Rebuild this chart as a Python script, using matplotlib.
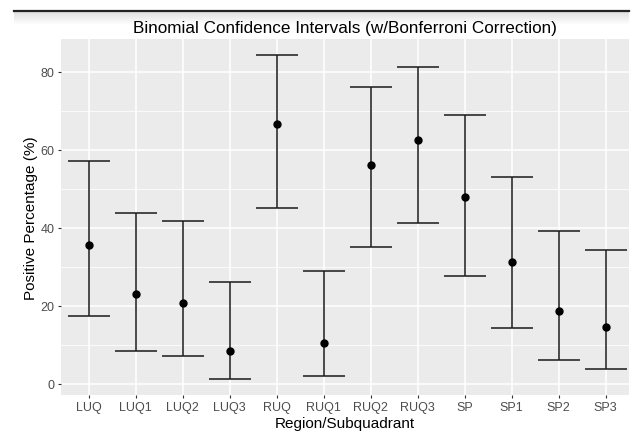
import numpy as np
import matplotlib.pyplot as plt
from matplotlib.lines import Line2D

plt.rcParams['font.family'] = ['Liberation Sans', 'DejaVu Sans']

# --- dados ---
regions = ["LUQ", "LUQ1", "LUQ2", "LUQ3", "RUQ", "RUQ1",
           "RUQ2", "RUQ3", "SP", "SP1", "SP2", "SP3"]
estimate = [35.5, 23.0, 20.8, 8.3, 66.7, 10.4, 56.2, 62.5, 47.9, 31.2, 18.7, 14.5]
lower = [17.3, 8.5, 7.2, 1.2, 45.1, 2.0, 35.1, 41.1, 27.5, 14.3, 6.1, 3.75]
upper = [57.1, 43.9, 41.6, 26.0, 84.3, 28.8, 76.0, 81.1, 68.9, 53.0, 39.1, 34.2]

x = np.arange(len(regions))
est = np.array(estimate)
err = [est - np.array(lower), np.array(upper) - est]

fig = plt.figure(figsize=(6.42, 4.35), dpi=100)

# sombra sob a linha do topo (fica atrás do título)
sh = fig.add_axes([14 / 642, 1 - 26 / 435, (629 - 14) / 642, 13 / 435], zorder=-1)
grad = np.linspace(0.88, 1.0, 50).reshape(-1, 1)
sh.imshow(grad, aspect="auto", cmap="gray", vmin=0, vmax=1, extent=[0, 1, 0, 1])
sh.axis("off")

ax = fig.add_axes([60.7 / 642, 39 / 435, (629 - 60.7) / 642, (396 - 39.6) / 435])
ax.set_facecolor("#EBEBEB")

ax.errorbar(x, est, yerr=err, fmt="o", color="black", ecolor="#1a1a1a",
            elinewidth=1.1, capsize=14.8, capthick=1.1, markersize=5, zorder=3)

ax.set_xlim(-0.6, 11.5)
ax.set_ylim(-2.9, 88.5)
ax.set_xticks(x)
ax.set_xticklabels(regions)
ax.set_yticks([0, 20, 40, 60, 80])
ax.set_yticks([10, 30, 50, 70], minor=True)

ax.grid(which="major", color="white", linewidth=1.1)
ax.grid(which="minor", axis="y", color="white", linewidth=0.55)
ax.set_axisbelow(True)
for s in ax.spines.values():
    s.set_visible(False)
ax.tick_params(which="major", length=2.5, width=0.8, color="#333333",
               labelcolor="#4D4D4D", labelsize=9, pad=2)
ax.tick_params(which="minor", length=0)

ax.set_xlabel("Region/Subquadrant", fontsize=11, labelpad=2)
ax.set_ylabel("Positive Percentage (%)", fontsize=11, labelpad=2)
ax.set_title("Binomial Confidence Intervals (w/Bonferroni Correction)",
             fontsize=12.3, pad=4.5)

# linha escura no topo
fig.add_artist(Line2D([14 / 642, 629 / 642], [1 - 12 / 435, 1 - 12 / 435],
                      color="#222222", linewidth=1.6))

fig.savefig("out.png", dpi=100)
